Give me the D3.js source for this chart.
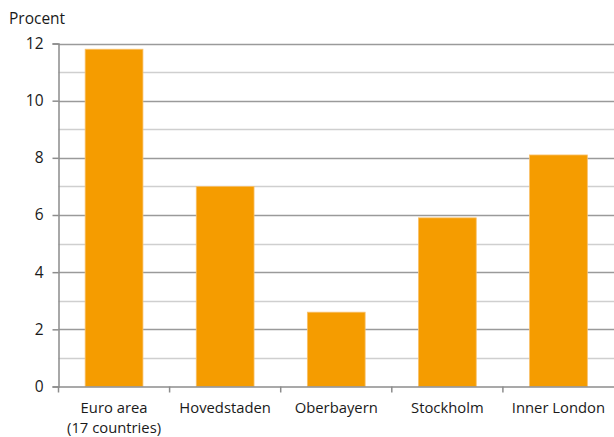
<!DOCTYPE html>
<html><head><meta charset="utf-8">
<script src="https://cdn.jsdelivr.net/npm/d3@7"></script>
<style>body{margin:0;background:#fff}svg{display:block}text{font-family:"Open Sans","Noto Sans",sans-serif;fill:#1a1a1a}</style>
</head><body>
<script>
const categories = [["Euro area","(17 countries)"],["Hovedstaden"],["Oberbayern"],["Stockholm"],["Inner London"]];
const values = [11.8, 7.0, 2.6, 5.9, 8.1];
const yTicks = [0,2,4,6,8,10,12];
const minorTicks = [1,3,5,7,9,11];
const yLabel = "Procent";

const W = 614, H = 437;
const FS = 15.5, FSX = 14.8;
const m = {left:58.5, right:0, top:43.5, bottom:50.5};
const svg = d3.select("body").append("svg").attr("width",W).attr("height",H);
const x = d3.scaleBand().domain(d3.range(values.length)).range([m.left, W - m.right]).paddingInner(0.48).paddingOuter(0.24);
const y = d3.scaleLinear().domain([0,12]).range([H - m.bottom, m.top]);

// minor gridlines
svg.append("g").selectAll("line").data(minorTicks).join("line")
  .attr("x1", m.left).attr("x2", W).attr("y1", d=>Math.round(y(d))+0.5).attr("y2", d=>Math.round(y(d))+0.5)
  .attr("stroke","#cfcfcf").attr("stroke-width",1.5);
// major gridlines
svg.append("g").selectAll("line").data(yTicks.filter(d=>d>0)).join("line")
  .attr("x1", m.left).attr("x2", W).attr("y1", d=>Math.round(y(d))+0.5).attr("y2", d=>Math.round(y(d))+0.5)
  .attr("stroke","#9a9a9a").attr("stroke-width",1.5);

// bars
svg.append("g").selectAll("rect").data(values).join("rect")
  .attr("x",(d,i)=>x(i)).attr("width",x.bandwidth())
  .attr("y",d=>y(d)).attr("height",d=>y(0)-y(d))
  .attr("fill","#f59c00").attr("stroke","#f8c06a").attr("stroke-width",0.8);

// y axis
const ya = d3.axisLeft(y).tickValues(yTicks).tickSize(6).tickPadding(9).tickFormat(d3.format("d"));
const gy = svg.append("g").attr("transform",`translate(${m.left},0)`).call(ya);
gy.select(".domain").attr("stroke","#8c8c8c").attr("stroke-width",1.5);
gy.selectAll(".tick line").attr("stroke","#8c8c8c").attr("stroke-width",1.5);
gy.selectAll(".tick text").attr("font-size",FS).style("fill","#1a1a1a").attr("font-family","'Open Sans','Noto Sans',sans-serif");

// x axis
const xa = d3.axisBottom(x).tickSize(0).tickFormat(()=> "");
const gx = svg.append("g").attr("transform",`translate(0,${y(0)})`).call(xa);
gx.select(".domain").attr("stroke","#8c8c8c").attr("stroke-width",1.5);
// category separator ticks
const step = (W - m.left - m.right) / values.length;
svg.append("g").selectAll("line").data(d3.range(values.length)).join("line")
  .attr("x1",i=>m.left + i*step).attr("x2",i=>m.left + i*step)
  .attr("y1",y(0)).attr("y2",y(0)+6).attr("stroke","#8c8c8c").attr("stroke-width",1.5);

// category labels (one text per line)
const lines = [];
categories.forEach((c,i)=>c.forEach((t,j)=>lines.push({i,j,t})));
svg.append("g").selectAll("text").data(lines).join("text")
  .attr("text-anchor","middle").attr("font-size",FSX)
  .attr("x",d=>x(d.i)+x.bandwidth()/2).attr("y",d=>y(0)+26+d.j*20.3).text(d=>d.t);

svg.append("text").attr("x",9).attr("y",24).attr("font-size",FS).text(yLabel);
</script>
</body></html>
